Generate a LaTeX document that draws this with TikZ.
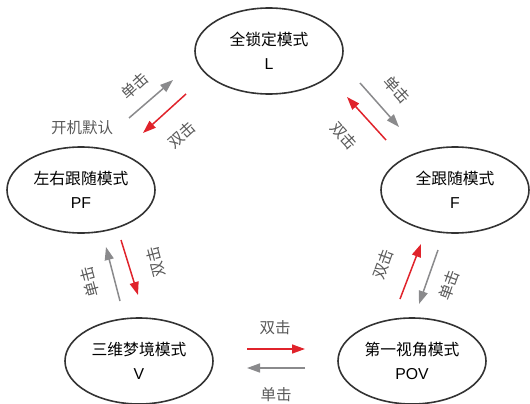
\documentclass[tikz,border=0pt]{standalone}
\usepackage{fontspec}
\setmainfont{Liberation Sans}
\newfontfamily\cjk{Noto Sans CJK SC}
\usetikzlibrary{shapes.geometric,arrows.meta}
\definecolor{hitred}{HTML}{E0232B}
\definecolor{hitgray}{HTML}{8A8A8C}
\definecolor{labgray}{HTML}{5A5A5A}
\tikzset{
  mode/.style={draw=black!80, ellipse, line width=1.6pt, minimum width=148pt,
    minimum height=86pt, inner sep=0pt, align=center, font=\fontsize{15.8}{24}\selectfont},
  clickone/.style={draw=hitgray, line width=1.5pt, -{Triangle[length=13pt,width=9pt]}},
  clicktwo/.style={draw=hitred, line width=1.5pt, -{Triangle[length=13pt,width=9pt]}},
  hit/.style={text=labgray, font=\cjk\fontsize{15.5}{15.5}\selectfont, inner sep=0pt},
}
\begin{document}
\begin{tikzpicture}[x=1pt,y=-1pt]
\useasboundingbox (0,0) rectangle (530,404);

\node[mode] (L) at (269,51) {{\cjk 全锁定模式}\\L};
\node[mode] (PF) at (81,190) {{\cjk 左右跟随模式}\\PF};
\node[mode] (F) at (455,190) {{\cjk 全跟随模式}\\F};
\node[mode] (V) at (139,361) {{\cjk 三维梦境模式}\\V};
\node[mode] (POV) at (412,361) {{\cjk 第一视角模式}\\POV};

% arrow ends
\coordinate (pl1) at (129,118); \coordinate (pl2) at (173,80);
\coordinate (lp1) at (186,94);  \coordinate (lp2) at (143,133);
\coordinate (lf1) at (360,83);  \coordinate (lf2) at (399,127);
\coordinate (fl1) at (386,140); \coordinate (fl2) at (347,97);
\coordinate (pv1) at (121,240); \coordinate (pv2) at (138,295);
\coordinate (vp1) at (120,301); \coordinate (vp2) at (106,247);
\coordinate (vo1) at (247,349); \coordinate (vo2) at (305,349);
\coordinate (ov1) at (305,368); \coordinate (ov2) at (247,368);
\coordinate (of1) at (400,299); \coordinate (of2) at (421,244);
\coordinate (fo1) at (438,250); \coordinate (fo2) at (419,304);

\draw[clickone] (pl1) -- (pl2);
\draw[clicktwo] (lp1) -- (lp2);
\draw[clickone] (lf1) -- (lf2);
\draw[clicktwo] (fl1) -- (fl2);
\draw[clicktwo] (pv1) -- (pv2);
\draw[clickone] (vp1) -- (vp2);
\draw[clicktwo] (vo1) -- (vo2);
\draw[clickone] (ov1) -- (ov2);
\draw[clicktwo] (of1) -- (of2);
\draw[clickone] (fo1) -- (fo2);

% labels
\node[hit,rotate=42] (t1) at (135,86) {单击};
\node[hit,rotate=42] (t2) at (182,135) {双击};
\node[hit] (boot) at (82,128) {开机默认};
\node[hit,rotate=-48] (t3) at (397,90) {单击};
\node[hit,rotate=-48] (t4) at (344,136) {双击};
\node[hit,rotate=105] (t5) at (90,282) {单击};
\node[hit,rotate=105] (t6) at (156,262) {双击};
\node[hit] (t7) at (275,328) {双击};
\node[hit] (t8) at (276,395) {单击};
\node[hit,rotate=70] (t9) at (383,264) {双击};
\node[hit,rotate=70] (t10) at (449,285) {单击};
\end{tikzpicture}
\end{document}
